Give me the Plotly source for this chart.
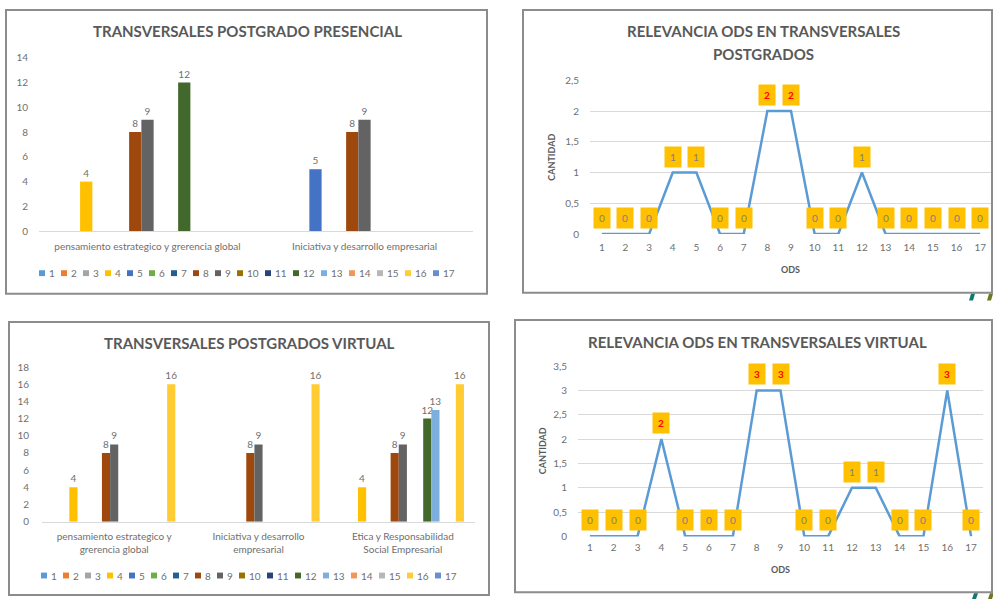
import plotly.graph_objects as go

W, H = 993, 605


def px(x):
    return x / W


def py(y):
    return 1 - y / H


# ---------------- data ----------------
SERIES = [str(i) for i in range(1, 18)]
SERIES_COLORS = ["#5B9BD5", "#ED7D31", "#A5A5A5", "#FFC000", "#4472C4", "#70AD47",
                 "#255E91", "#9E480E", "#636363", "#997300", "#264478", "#43682B",
                 "#7CAFDD", "#F1975A", "#B7B7B7", "#FFCD33", "#698ED0"]

N = None
PRES_CATEGORIES = ["pensamiento estrategico y grerencia global",
                   "Iniciativa y desarrollo empresarial"]
PRES_PENSAMIENTO = [N, N, N, 4, N, N, N, 8, 9, N, N, 12, N, N, N, N, N]
PRES_INICIATIVA = [N, N, N, N, 5, N, N, 8, 9, N, N, N, N, N, N, N, N]

VIRT_CATEGORIES = ["pensamiento estrategico y<br>grerencia global",
                   "Iniciativa y desarrollo<br>empresarial",
                   "Etica y Responsabilidad<br>Social Empresarial"]
VIRT_PENSAMIENTO = [N, N, N, 4, N, N, N, 8, 9, N, N, N, N, N, N, 16, N]
VIRT_INICIATIVA = [N, N, N, N, N, N, N, 8, 9, N, N, N, N, N, N, 16, N]
VIRT_ETICA = [N, N, N, 4, N, N, N, 8, 9, N, N, 12, 13, N, N, 16, N]

ODS = list(range(1, 18))
ODS_PRESENCIAL = [0, 0, 0, 1, 1, 0, 0, 2, 2, 0, 0, 1, 0, 0, 0, 0, 0]
ODS_VIRTUAL = [0, 0, 0, 2, 0, 0, 0, 3, 3, 0, 0, 1, 1, 0, 0, 3, 0]

FONT = "Lato"
TXT = "#6F6F6F"
TITLE_C = "#595959"

fig = go.Figure()

# ---------------- bar charts ----------------
for i, (s, c) in enumerate(zip(SERIES, SERIES_COLORS)):
    fig.add_trace(go.Bar(
        x=PRES_CATEGORIES, y=[PRES_PENSAMIENTO[i], PRES_INICIATIVA[i]], name=s,
        marker=dict(color=c, line=dict(width=0)), texttemplate="%{y}",
        textposition="outside", constraintext="none", cliponaxis=False,
        textfont=dict(size=10, color=TXT, family=FONT),
        xaxis="x", yaxis="y", showlegend=False))
    fig.add_trace(go.Bar(
        x=VIRT_CATEGORIES, y=[VIRT_PENSAMIENTO[i], VIRT_INICIATIVA[i], VIRT_ETICA[i]], name=s,
        marker=dict(color=c, line=dict(width=0)), texttemplate="%{y}",
        textposition="outside", constraintext="none", cliponaxis=False,
        textfont=dict(size=10, color=TXT, family=FONT),
        xaxis="x3", yaxis="y3", showlegend=False))

# ---------------- line charts ----------------
fig.add_trace(go.Scatter(x=ODS, y=ODS_PRESENCIAL, mode="lines",
                         line=dict(color="#5B9BD5", width=2.5), cliponaxis=False,
                         xaxis="x2", yaxis="y2", showlegend=False))
fig.add_trace(go.Scatter(x=ODS, y=ODS_VIRTUAL, mode="lines",
                         line=dict(color="#5B9BD5", width=2.5), cliponaxis=False,
                         xaxis="x4", yaxis="y4", showlegend=False))

annotations = []
shapes = []

for xr, yr, vals in (("x2", "y2", ODS_PRESENCIAL), ("x4", "y4", ODS_VIRTUAL)):
    for x, v in zip(ODS, vals):
        red = v >= 2
        annotations.append(dict(
            x=x, y=v, xref=xr, yref=yr, text=f"<b>{v}</b>" if red else str(v),
            showarrow=False, yshift=16, bgcolor="#FFC000", width=14, height=18,
            font=dict(size=10, color="#FF0000" if red else "#7F7F7F", family=FONT)))

# ---------------- titles ----------------
def title(text, x, y, size=15):
    annotations.append(dict(text=f"<b>{text}</b>", x=px(x), y=py(y), xref="paper", yref="paper",
                            showarrow=False, xanchor="center", yanchor="middle",
                            font=dict(size=size, color=TITLE_C, family=FONT)))


title("TRANSVERSALES POSTGRADO PRESENCIAL", 247, 25)
title("RELEVANCIA ODS EN TRANSVERSALES", 763, 25)
title("POSTGRADOS", 763, 48)
title("TRANSVERSALES POSTGRADOS VIRTUAL", 249, 343)
title("RELEVANCIA ODS EN TRANSVERSALES VIRTUAL", 757, 342)


def axis_label(text, x, y, angle=0):
    annotations.append(dict(text=f"<b>{text}</b>", x=px(x), y=py(y), xref="paper", yref="paper",
                            showarrow=False, xanchor="center", yanchor="middle", textangle=angle,
                            font=dict(size=9, color=TITLE_C, family=FONT)))


axis_label("ODS", 790, 268)
axis_label("CANTIDAD", 552, 154, -90)
axis_label("ODS", 780, 575)
axis_label("CANTIDAD", 542, 454, -90)

# ---------------- legends (bar charts) ----------------
for start, ly in ((39, 272), (41, 581)):
    x = start
    for s, c in zip(SERIES, SERIES_COLORS):
        shapes.append(dict(type="rect", xref="paper", yref="paper",
                           x0=px(x), x1=px(x + 6), y0=py(ly + 3), y1=py(ly - 3),
                           fillcolor=c, line=dict(width=0)))
        annotations.append(dict(text=s, x=px(x + 8), y=py(ly), xref="paper", yref="paper",
                                showarrow=False, xanchor="left", yanchor="middle",
                                font=dict(size=10, color=TXT, family=FONT)))
        x += 16 + 6 * len(s)

# ---------------- boxes ----------------
for x0, y0, x1, y1 in ((6, 3, 487, 293), (523, 3, 992, 292),
                       (9, 322, 489, 601), (515, 320, 992, 598)):
    shapes.append(dict(type="rect", xref="paper", yref="paper",
                       x0=px(x0), x1=px(x1), y0=py(y1), y1=py(y0),
                       line=dict(color="#8C8C8C", width=2), fillcolor="rgba(0,0,0,0)"))

# small logo fragments
def para(x, y0, y1, color):
    shapes.append(dict(type="path", xref="paper", yref="paper",
                       path=f"M {px(x)} {py(y1)} L {px(x + 4)} {py(y1)} L {px(x + 6)} {py(y0)} "
                            f"L {px(x + 2)} {py(y0)} Z",
                       fillcolor=color, line=dict(width=0)))


para(969, 293, 300, "#0E7A6E")
para(987, 293, 300, "#6B7A1E")
para(972, 599, 605, "#0E7A6E")
para(988, 599, 605, "#6B7A1E")

tickfont = dict(size=10, color=TXT, family=FONT)

fig.update_layout(
    width=W, height=H, autosize=False,
    margin=dict(l=0, r=0, t=0, b=0),
    paper_bgcolor="white", plot_bgcolor="white",
    separators=",.",
    barmode="group", bargap=0.04, bargroupgap=0,
    font=dict(family=FONT, color=TXT),
    xaxis=dict(domain=[px(39), px(473)], anchor="y", type="category", showline=True,
               linecolor="#D9D9D9", linewidth=1, showgrid=False, ticks="",
               tickfont=tickfont, ticklabelstandoff=6, fixedrange=True),
    yaxis=dict(domain=[py(229), py(52)], anchor="x", range=[0, 14], dtick=2, showgrid=False,
               zeroline=False, showline=False, tickfont=tickfont, ticklabelstandoff=10,
               fixedrange=True),
    xaxis2=dict(domain=[px(590), px(992)], anchor="y2", range=[0.5, 17.5], tickvals=ODS,
                showgrid=False, zeroline=False, showline=False, ticks="",
                tickfont=tickfont, ticklabelstandoff=6, fixedrange=True),
    yaxis2=dict(domain=[py(232), py(75)], anchor="x2", range=[0, 2.5], dtick=0.5,
                showgrid=True, gridcolor="#D9D9D9", zeroline=False, showline=False,
                tickfont=tickfont, ticklabelstandoff=10, fixedrange=True),
    xaxis3=dict(domain=[px(42), px(475)], anchor="y3", type="category", showline=True,
                linecolor="#D9D9D9", linewidth=1, showgrid=False, ticks="",
                tickfont=tickfont, ticklabelstandoff=5, fixedrange=True),
    yaxis3=dict(domain=[py(526), py(368)], anchor="x3", range=[0, 18], dtick=2, showgrid=False,
                zeroline=False, showline=False, tickfont=tickfont, ticklabelstandoff=12,
                fixedrange=True),
    xaxis4=dict(domain=[px(578), px(983)], anchor="y4", range=[0.5, 17.5], tickvals=ODS,
                showgrid=False, zeroline=False, showline=False, ticks="",
                tickfont=tickfont, ticklabelstandoff=4, fixedrange=True),
    yaxis4=dict(domain=[py(541), py(367)], anchor="x4", range=[0, 3.5], dtick=0.5,
                showgrid=True, gridcolor="#D9D9D9", zeroline=False, showline=False,
                tickfont=tickfont, ticklabelstandoff=10, fixedrange=True),
    annotations=annotations,
    shapes=shapes,
)

fig.write_html("out.html", config={"displayModeBar": False},
               post_script="document.body.style.margin='0px';document.body.style.overflow='hidden';")
